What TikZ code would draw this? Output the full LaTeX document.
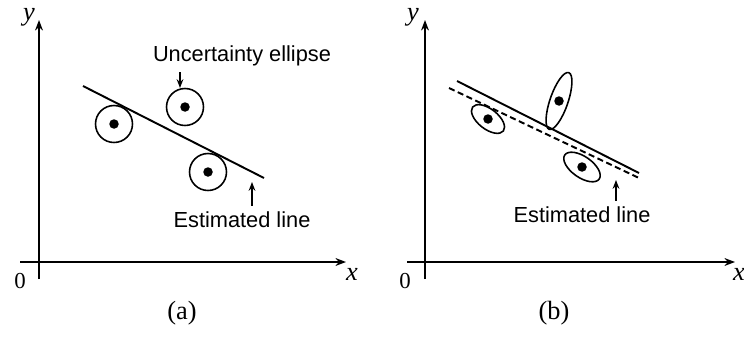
\documentclass[tikz,border=0pt]{standalone}
\usepackage{fontspec}
\setmainfont{Liberation Serif}
\setsansfont{Liberation Sans}
\usetikzlibrary{arrows.meta, shapes.geometric, positioning}

\begin{document}
\begin{tikzpicture}[x=0.02cm, y=-0.02cm,
    axis/.style={line width=0.9pt, -{Stealth[length=6pt, width=4.5pt]}},
    fitline/.style={line width=1.1pt},
    pointer/.style={line width=0.8pt, -{Stealth[length=5pt, width=3.8pt]}},
    blob/.style={circle, draw, line width=0.9pt, minimum size=0.74cm, inner sep=0pt},
    oval/.style={ellipse, draw, line width=0.9pt, inner sep=0pt},
    dot/.style={circle, fill, minimum size=0.19cm, inner sep=0pt},
    note/.style={font=\sffamily\fontsize{12.4}{14}\selectfont},
    axlbl/.style={font=\fontsize{15}{17}\selectfont\itshape, inner sep=0pt},
    numlbl/.style={font=\fontsize{13}{15}\selectfont, inner sep=0pt},
    caption/.style={font=\fontsize{15}{17}\selectfont}]
  \useasboundingbox (0,0) rectangle (744,338);

  % ── Panel (a): axes ─────────────────────────────────────────────
  \coordinate (a-xs) at (20,262);
  \coordinate (a-xe) at (346,262);
  \coordinate (a-ys) at (39,279);
  \coordinate (a-ye) at (39,20);
  \draw[axis] (a-xs) -- (a-xe);
  \draw[axis] (a-ys) -- (a-ye);
  \node[axlbl] (a-ylbl) at (29,17) {y};
  \node[axlbl] (a-xlbl) at (352,274) {x};
  \node[numlbl] (a-zero) at (20,281) {0};
  \node[caption] (a-cap) at (182,313) {(a)};

  % ── Panel (a): points with circular uncertainty ────────────────
  \foreach \n/\x/\y in {1/114/124, 2/185/107, 3/208/172}{
    \node[blob] (a-c\n) at (\x,\y) {};
    \node[dot] (a-d\n) at (a-c\n) {};
  }

  % ── Panel (a): estimated line + labels ─────────────────────────
  \coordinate (a-l1) at (83,86);
  \coordinate (a-l2) at (264,178);
  \draw[fitline] (a-l1) -- (a-l2);

  \node[note] (a-unc) at (242,56) {Uncertainty ellipse};
  \coordinate (a-utip) at (180,88);
  \draw[pointer] (a-unc.south -| a-utip) -- (a-utip);

  \node[note] (a-est) at (242,220) {Estimated line};
  \coordinate (a-etip) at (252,182);
  \draw[pointer] (a-est.north -| a-etip) -- (a-etip);

  % ── Panel (b): axes ─────────────────────────────────────────────
  \coordinate (b-xs) at (407,262);
  \coordinate (b-xe) at (735,262);
  \coordinate (b-ys) at (425,279);
  \coordinate (b-ye) at (425,20);
  \draw[axis] (b-xs) -- (b-xe);
  \draw[axis] (b-ys) -- (b-ye);
  \node[axlbl] (b-ylbl) at (413,17) {y};
  \node[axlbl] (b-xlbl) at (739,274) {x};
  \node[numlbl] (b-zero) at (405,281) {0};
  \node[caption] (b-cap) at (554,313) {(b)};

  % ── Panel (b): points with elliptical uncertainty ──────────────
  \foreach \n/\x/\y/\w/\h/\r in {1/488/119/0.78/0.4/-38,
                                 2/559/101/1.2/0.36/71,
                                 3/582/167/0.84/0.42/-35}{
    \node[oval, minimum width=\w cm, minimum height=\h cm, rotate=\r] (b-e\n) at (\x,\y) {};
    \node[dot] (b-d\n) at (\x,\y) {};
  }

  % ── Panel (b): estimated (solid) and true (dashed) lines ───────
  \coordinate (b-l1) at (457,81);
  \coordinate (b-l2) at (639,173);
  \coordinate (b-m1) at (449,88);
  \coordinate (b-m2) at (639,178);
  \draw[fitline] (b-l1) -- (b-l2);
  \draw[fitline, dash pattern=on 3.5pt off 2pt] (b-m1) -- (b-m2);

  \node[note] (b-est) at (582,215) {Estimated line};
  \coordinate (b-etip) at (616,180);
  \draw[pointer] (b-est.north -| b-etip) -- (b-etip);
\end{tikzpicture}
\end{document}
